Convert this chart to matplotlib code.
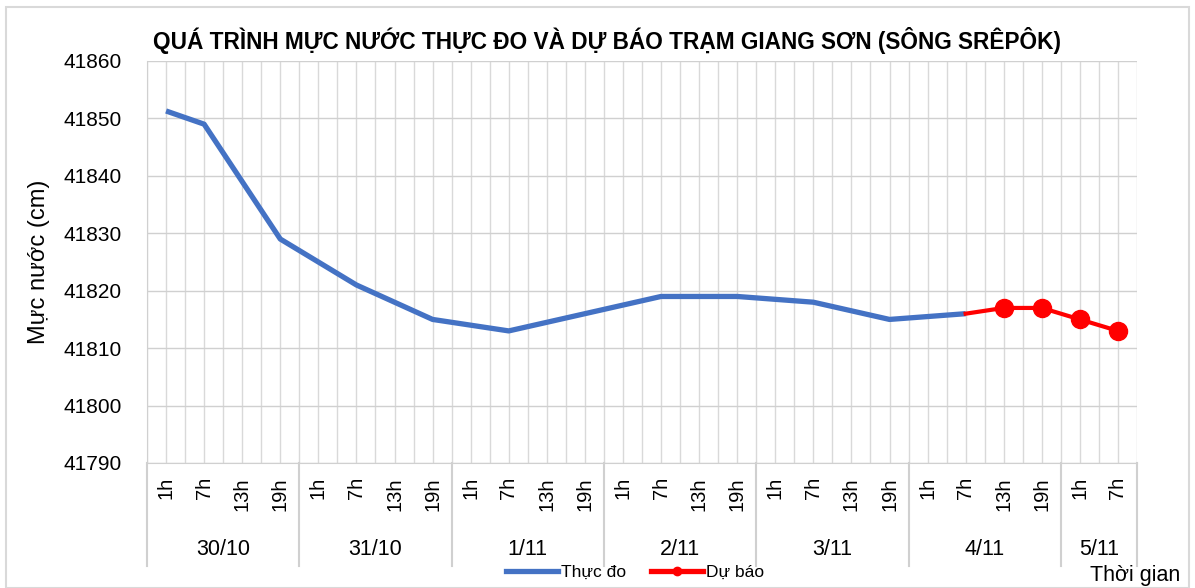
import numpy as np
import matplotlib
matplotlib.use('Agg')
import matplotlib.pyplot as plt
from matplotlib.patches import Rectangle
from matplotlib.lines import Line2D

plt.rcParams['font.family'] = ['Liberation Sans', 'DejaVu Sans']

days = ['30/10', '31/10', '1/11', '2/11', '3/11', '4/11', '5/11']
hours_per_day = [4, 4, 4, 4, 4, 4, 2]
hour_labels = ['1h', '7h', '13h', '19h']

observed = [41851.3, 41849, 41839, 41829,
            41825, 41821, 41818, 41815,
            41814, 41813, 41814.5, 41816,
            41817.5, 41819, 41819, 41819,
            41818.5, 41818, 41816.5, 41815,
            41815.5, 41816]
# forecast starts at last observed point (4/11 7h)
forecast = [41816, 41817, 41817, 41815, 41813]

tick_labels = []
for n in hours_per_day:
    tick_labels += hour_labels[:n]
n_cat = len(tick_labels)

fig = plt.figure(figsize=(11.95, 5.88), dpi=100)
ax = fig.add_axes([147 / 1195, 1 - 463 / 588, (1137 - 147) / 1195, (463 - 61) / 588])

x_obs = np.arange(len(observed))
x_fc = np.arange(len(observed) - 1, len(observed) - 1 + len(forecast))
ax.plot(x_obs, observed, color='#4472C4', lw=3.8, solid_capstyle='butt', zorder=3)
ax.plot(x_fc, forecast, color='#FF0000', lw=3.0, marker='o', markersize=13,
        markevery=list(range(1, len(forecast))), zorder=4)

ax.set_xlim(-0.5, n_cat - 0.5)
ax.set_ylim(41790, 41860)
ax.set_yticks(np.arange(41790, 41861, 10))
ax.set_xticks(np.arange(-0.5, n_cat, 0.5), minor=True)
ax.set_xticks([])
ax.grid(True, which='minor', axis='x', color='#d9d9d9', lw=1)
ax.grid(True, which='major', axis='y', color='#d0d0d0', lw=1)
ax.set_axisbelow(True)
for s in ['top', 'right']:
    ax.spines[s].set_visible(False)
for s in ['left', 'bottom']:
    ax.spines[s].set_color('#d0d0d0')
ax.tick_params(axis='y', length=0, labelsize=15, pad=18)
ax.tick_params(axis='x', which='both', length=0)

# two-level category axis
trans = ax.get_xaxis_transform()
for i, lab in enumerate(tick_labels):
    ax.text(i, -0.035, lab, transform=trans, rotation=90, ha='center', va='top', fontsize=14.5)
start = 0
bounds = [-0.5]
for d, n in zip(days, hours_per_day):
    ax.text(start + (n - 1) / 2, -0.215, d, transform=trans, ha='center', va='center', fontsize=15.5)
    start += n
    bounds.append(start - 0.5)
for b in bounds:
    ax.add_line(Line2D([b, b], [0, -0.255], transform=trans, color='#d0d0d0', lw=1.5, clip_on=False))

ax.set_ylabel('Mực nước (cm)', fontsize=17, labelpad=10)

fig.text(607 / 1195, 1 - 40 / 588, 'QUÁ TRÌNH MỰC NƯỚC THỰC ĐO VÀ DỰ BÁO TRẠM GIANG SƠN (SÔNG SRÊPÔK)',
         ha='center', va='center', fontsize=16.3, fontweight='bold')
fig.text(1135 / 1195, 1 - 575 / 588, 'Thời gian', ha='center', va='center', fontsize=15.5)

handles = [Line2D([], [], color='#4472C4', lw=3.8),
           Line2D([], [], color='#FF0000', lw=3.8, marker='o', markersize=6)]
fig.legend(handles, ['Thực đo', 'Dự báo'], loc='center', bbox_to_anchor=(635 / 1195, 1 - 572 / 588),
           ncol=2, frameon=False, fontsize=12.5, handlelength=3.0, handletextpad=0.2, columnspacing=1.4)

fig.patches.append(Rectangle((6 / 1195, 0), 1 - 12 / 1195, 1 - 7 / 588, transform=fig.transFigure,
                             fill=False, edgecolor='#d9d9d9', lw=1.5))

fig.savefig('out.png', dpi=100)
